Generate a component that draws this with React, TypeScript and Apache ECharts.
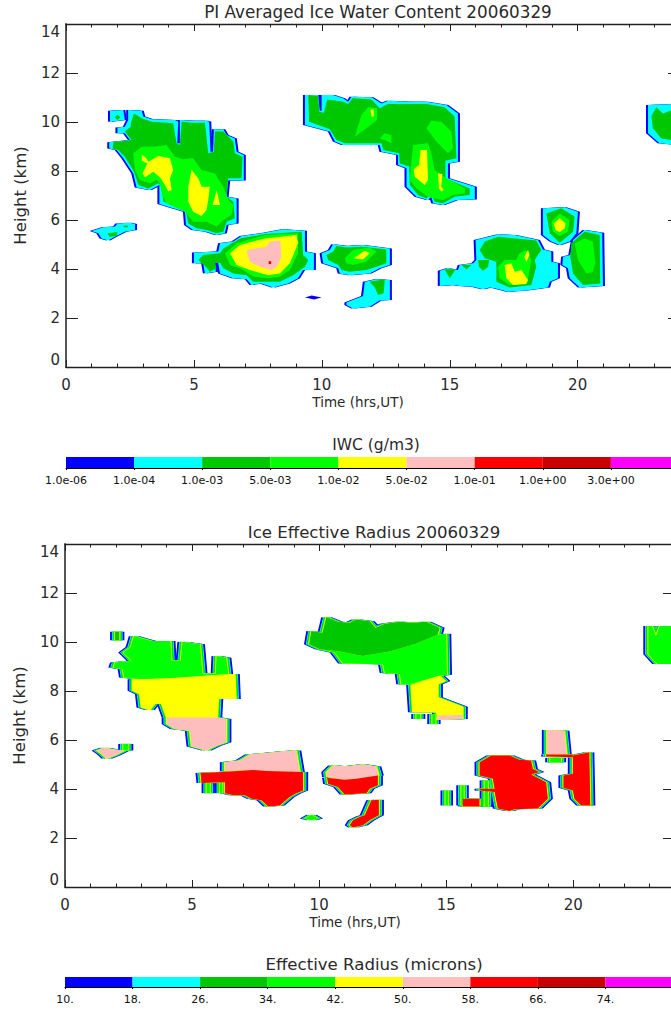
import React, { useEffect, useRef } from "react";
import * as echarts from "echarts";

type Pt = [number, number];
type Poly = Pt[];

const BLUE = "#0000ff", CYAN = "#00ffff", DARKGREEN = "#00c800", GREEN = "#00ff00",
  YELLOW = "#ffff00", PINK = "#ffbebe", RED = "#ff0000", DARKRED = "#c80000", MAGENTA = "#ff00ff";

const barColors = [BLUE, CYAN, DARKGREEN, GREEN, YELLOW, PINK, RED, DARKRED, MAGENTA];
const iwcTicks = ["1.0e-06", "1.0e-04", "1.0e-03", "5.0e-03", "1.0e-02", "5.0e-02", "1.0e-01", "1.0e+00", "3.0e+00", ""];
const radiusTicks = ["10.", "18.", "26.", "34.", "42.", "50.", "58.", "66.", "74.", ""];

// ---------- Ice water content, contour outlines as [hour, km] ----------
const iwcCyan: Poly[] = [
  [[2.43,10.49],[2.96,10.46],[3.02,10.22],[3.35,10.11],[4.26,10.08],[4.39,10.01],[4.35,9.13],[4.45,9.13],[4.45,10.08],[4.97,10.05],[5.49,10.05],[5.6,10.01],[5.65,8.79],[5.75,8.79],[5.78,9.7],[6.15,9.7],[6.28,9.47],[6.6,9.33],[6.67,8.79],[6.95,8.65],[6.95,7.61],[6.34,7.61],[6.28,6.95],[6.67,6.88],[6.67,5.86],[6.28,5.8],[6.21,5.46],[5.89,5.39],[5.49,5.52],[4.97,5.59],[4.69,5.8],[4.65,6.34],[4.06,6.52],[3.65,6.65],[3.65,7.43],[3.28,7.22],[2.76,7.33],[2.63,7.9],[2.24,8.52],[1.98,8.86],[1.69,8.92],[1.69,9.17],[2.5,9.27],[2.3,9.54],[2.01,9.54],[2.01,9.78],[2.3,9.81],[2.43,10.08]],
  [[1.72,10.46],[2.24,10.49],[2.3,10.08],[1.72,10.01]],
  [[1.0,5.55],[1.46,5.7],[1.91,5.73],[2.01,5.86],[2.5,5.89],[2.7,5.84],[2.7,5.59],[2.3,5.52],[1.91,5.32],[1.65,5.16],[1.39,5.25],[1.26,5.46]],
  [[5.0,4.67],[5.95,4.71],[6.02,5.05],[6.54,5.12],[6.86,5.35],[7.77,5.48],[8.49,5.62],[9.34,5.56],[9.34,4.71],[9.69,4.64],[9.69,3.96],[9.27,3.96],[9.07,3.62],[8.68,3.41],[8.1,3.24],[7.64,3.41],[7.25,3.35],[7.06,3.58],[6.54,3.62],[6.02,3.82],[5.95,4.23],[5.82,4.3],[5.86,3.89],[5.43,3.82],[5.36,4.23],[5.0,4.23]],
  [[9.99,4.64],[10.31,4.78],[10.44,5.01],[10.96,4.94],[11.61,4.98],[12.66,4.84],[12.66,4.16],[12.26,4.03],[11.87,3.82],[11.09,3.75],[10.7,3.82],[10.64,4.03],[10.05,4.23]],
  [[11.68,3.48],[12.13,3.58],[12.66,3.55],[12.66,2.73],[12.26,2.71],[11.87,2.46],[11.22,2.39],[10.96,2.53],[10.96,2.63],[11.61,2.9]],
  [[9.34,11.1],[9.86,11.1],[9.92,10.46],[9.99,10.46],[9.99,11.1],[10.44,11.1],[10.83,10.97],[11.03,10.83],[11.16,11.03],[11.94,11.01],[12.33,10.76],[12.59,10.87],[13.44,10.83],[14.09,10.83],[14.87,10.69],[15.32,10.35],[15.32,8.38],[14.93,8.31],[14.93,7.7],[15.98,7.36],[15.98,6.84],[15.26,6.82],[14.74,6.61],[14.35,6.68],[14.28,6.95],[14.15,6.82],[13.7,6.95],[13.31,7.36],[13.31,8.11],[12.98,8.24],[12.98,8.65],[12.33,8.79],[12.26,9.06],[10.83,9.06],[10.51,9.2],[10.31,9.61],[9.34,9.88]],
  [[18.64,6.48],[19.49,6.52],[20.01,6.34],[19.95,5.46],[19.69,5.12],[19.3,4.98],[18.97,5.12],[18.64,5.39]],
  [[19.82,5.18],[20.27,5.59],[20.96,5.48],[20.99,3.31],[20.08,3.25],[19.69,3.62],[19.62,4.03],[19.4,4.16],[19.43,4.5],[19.71,4.57]],
  [[16.01,5.18],[16.89,5.41],[17.54,5.39],[18.45,5.18],[18.64,4.8],[18.97,4.71],[18.97,4.3],[19.23,4.23],[19.23,3.62],[18.91,3.48],[18.84,3.25],[17.99,3.12],[17.28,3.07],[16.76,3.21],[16.56,3.25],[16.3,3.17],[15.91,3.28],[15.39,3.31],[15.19,3.35],[14.61,3.31],[14.61,3.93],[14.93,4.03],[15.32,3.96],[15.39,4.16],[15.91,4.23],[16.04,4.37]],
  [[22.75,10.69],[23.59,10.72],[24,10.73],[24,9.05],[23.2,9.13],[22.75,9.54]],
];
const iwcBlue: Poly[] = [
  [[9.34,2.84],[9.6,2.92],[9.99,2.84],[9.7,2.76]],
];
const iwcDark: Poly[] = [
  [[2.53,9.95],[2.66,10.35],[2.96,10.15],[3.35,10.01],[4.19,9.95],[4.32,9.13],[4.45,9.06],[4.52,10.01],[4.91,9.97],[5.43,9.97],[5.56,8.72],[5.78,8.79],[5.82,9.61],[6.15,9.61],[6.54,9.2],[6.6,8.72],[6.9,8.58],[6.86,7.7],[6.34,7.7],[6.28,6.95],[6.54,6.75],[6.6,6.07],[6.28,5.93],[6.15,5.52],[5.89,5.46],[5.49,5.59],[5.1,5.66],[4.78,5.86],[4.69,6.34],[4.26,6.61],[3.8,6.75],[3.74,7.36],[3.61,7.5],[3.22,7.29],[2.83,7.43],[2.66,7.97],[2.3,8.58],[2.04,8.86],[1.82,8.92],[1.85,9.17],[2.56,9.27],[2.3,9.61],[2.53,9.81]],
  [[1.9,10.19],[2.01,10.3],[2.12,10.19],[2.01,10.08]],
  [[1.63,5.46],[2.01,5.51],[1.98,5.35],[1.69,5.32]],
  [[2.24,5.77],[2.43,5.78],[2.41,5.7],[2.27,5.7]],
  [[5.17,4.37],[5.36,4.57],[6.02,4.64],[6.15,4.84],[6.8,5.25],[7.77,5.43],[9.21,5.52],[9.27,4.57],[9.47,4.37],[9.34,4.09],[8.88,3.75],[8.36,3.48],[7.9,3.48],[7.32,3.48],[7.06,3.75],[6.54,3.82],[6.15,4.03],[6.02,4.26],[5.82,4.23],[5.89,4.03],[5.62,3.89],[5.47,4.09],[5.3,4.23]],
  [[10.18,4.57],[10.44,4.71],[10.57,4.94],[10.96,4.88],[11.61,4.91],[12.52,4.8],[12.52,4.23],[12.13,4.09],[11.74,3.96],[11.09,3.89],[10.77,3.96],[10.64,4.16],[10.25,4.37]],
  [[11.87,3.48],[12.46,3.58],[12.42,3.01],[12.2,2.94],[12.07,3.25]],
  [[9.47,11.1],[9.86,11.06],[9.9,10.42],[10.08,10.38],[10.21,10.92],[10.83,10.83],[11.03,10.73],[11.2,10.97],[11.94,10.92],[12.26,10.56],[12.59,10.73],[13.44,10.73],[14.09,10.73],[14.8,10.6],[15.19,10.22],[15.26,8.52],[14.83,8.42],[14.83,7.7],[15.78,7.29],[15.78,7.02],[15.19,6.95],[14.74,6.68],[14.41,6.75],[14.28,7.09],[14.09,6.88],[13.76,7.02],[13.44,7.43],[13.41,8.18],[13.05,8.31],[13.02,8.72],[12.4,8.86],[12.33,9.13],[10.9,9.13],[10.57,9.27],[10.31,9.7],[9.5,10.01]],
  [[18.78,6.27],[19.36,6.48],[19.88,6.14],[19.82,5.52],[19.3,5.07],[18.91,5.46]],
  [[19.75,5.05],[20.27,5.52],[20.86,5.39],[20.88,3.41],[20.21,3.35],[19.82,3.82],[19.71,4.5]],
  [[16.17,4.78],[16.37,5.12],[16.89,5.32],[18.38,5.16],[18.58,4.78],[18.32,4.37],[18.38,4.09],[18.19,3.35],[17.34,3.25],[16.82,3.48],[16.82,4.3],[16.37,4.44]],
  [[14.8,3.99],[15.23,3.99],[15.0,3.62]],
  [[15.45,4.16],[15.85,4.16],[15.65,3.99]],
  [[16.11,4.37],[16.54,4.37],[16.5,4.09],[16.3,3.93],[16.14,4.09]],
  [[22.88,10.22],[23.07,10.6],[23.33,10.35],[24,10.6],[24,9.2],[23.27,9.33],[22.94,9.74]],
];
const iwcGreen: Poly[] = [
  [[2.63,8.72],[2.96,8.99],[3.48,8.99],[3.93,9.06],[4.26,8.58],[4.58,8.48],[4.97,8.52],[5.3,8.04],[5.82,7.9],[6.15,7.36],[6.34,6.82],[6.54,6.61],[6.47,6.2],[6.15,6.0],[5.89,5.73],[5.49,5.93],[4.97,5.93],[4.65,6.34],[3.93,6.68],[3.74,7.09],[3.67,7.5],[3.54,7.63],[3.28,7.5],[2.89,7.63],[2.7,8.04]],
  [[6.21,4.64],[6.67,5.05],[7.77,5.39],[9.07,5.46],[9.07,4.64],[8.75,3.96],[8.36,3.69],[7.9,3.62],[7.32,3.69],[6.8,4.03],[6.41,4.16]],
  [[10.9,4.44],[11.22,4.78],[11.87,4.88],[12.13,4.71],[11.74,4.3],[11.22,4.16],[10.96,4.23]],
  [[11.29,9.4],[11.55,10.29],[11.81,10.6],[12.16,10.56],[12.16,10.08],[11.74,9.74]],
  [[12.26,9.33],[12.46,9.54],[12.72,9.47],[12.72,9.13],[12.46,9.27]],
  [[14.09,9.74],[14.28,10.05],[14.67,10.01],[15.06,9.61],[15.13,8.92],[14.93,8.72],[14.48,9.2]],
  [[13.57,9.06],[14.15,9.13],[14.28,8.72],[14.41,8.04],[14.87,7.7],[15.59,7.29],[15.59,7.09],[15.13,7.02],[14.74,6.82],[14.41,6.88],[14.15,6.95],[13.7,7.29],[13.44,7.63],[13.5,8.38]],
  [[18.97,5.93],[19.3,6.27],[19.69,6.0],[19.62,5.52],[19.3,5.35],[19.04,5.52]],
  [[19.88,5.05],[20.27,5.25],[20.6,5.12],[20.69,4.23],[20.6,3.89],[20.34,3.82],[20.01,4.37]],
  [[16.89,4.09],[17.15,4.37],[17.6,4.37],[17.73,4.64],[17.99,4.78],[18.19,4.37],[18.06,3.62],[17.99,3.41],[17.34,3.35],[16.95,3.62]],
];
const iwcYellow: Poly[] = [
  [[2.96,8.65],[3.09,8.58],[3.22,8.38],[3.61,8.61],[4.06,8.52],[4.19,8.04],[4.06,7.7],[4.13,7.22],[4.0,7.16],[3.87,7.43],[3.67,7.74],[3.41,7.97],[3.09,7.74],[2.99,7.9],[3.18,8.31],[2.96,8.42]],
  [[4.91,8.04],[5.17,7.7],[5.3,7.36],[5.62,7.36],[5.56,6.82],[5.49,6.41],[5.3,6.16],[4.97,6.34],[4.78,6.75],[4.78,7.36]],
  [[5.89,7.22],[6.02,6.61],[5.73,6.61]],
  [[6.41,4.64],[6.8,4.98],[7.77,5.25],[9.01,5.39],[9.07,5.05],[8.75,4.23],[8.36,3.82],[7.9,3.75],[7.19,3.96],[6.67,4.16]],
  [[11.25,4.44],[11.68,4.75],[11.87,4.64],[11.61,4.39]],
  [[11.9,10.49],[12.03,10.52],[12.03,10.22],[11.94,10.22]],
  [[13.86,8.86],[14.11,8.86],[14.15,7.63],[14.02,7.43],[13.63,7.77],[13.59,8.07],[13.8,8.24]],
  [[14.54,7.9],[14.71,7.88],[14.67,7.36],[14.77,7.22],[14.67,7.16],[14.58,7.29]],
  [[19.06,5.86],[19.3,6.07],[19.53,5.86],[19.49,5.66],[19.3,5.5],[19.14,5.59]],
  [[17.15,4.16],[17.41,4.23],[17.54,3.89],[17.8,3.96],[18.06,3.55],[17.99,3.39],[17.47,3.35],[17.21,3.62]],
  [[17.91,4.5],[18.06,4.78],[18.12,4.57],[17.99,4.3]],
];
const iwcPink: Poly[] = [
  [[7.08,4.78],[7.84,4.91],[7.97,5.12],[8.38,5.16],[8.42,4.5],[8.25,4.09],[8.03,3.96],[7.58,4.09],[7.19,4.3],[7.08,4.64]],
];
const iwcRed: Poly[] = [
  [[7.92,4.32],[8.02,4.32],[8.02,4.2],[7.92,4.2]],
];

// ---------- Effective radius, contour outlines as [hour, km] ----------
const radDark: Poly[] = [
  [[1.97,10.42],[2.14,10.42],[2.14,10.07],[1.97,10.07]],
  [[9.6,9.91],[9.69,10.45],[10.13,10.38],[10.28,11.02],[10.74,10.83],[11.2,10.79],[11.46,10.92],[11.99,10.85],[12.22,10.58],[12.58,10.75],[13.17,10.83],[13.69,10.79],[14.21,10.83],[14.74,10.58],[14.67,10.31],[13.82,9.93],[12.77,9.61],[11.72,9.43],[10.81,9.61],[10.02,9.7]],
];
const radGreen: Poly[] = [
  [[2.71,10.24],[3.41,10.04],[4.15,10.04],[4.19,9.23],[4.55,9.23],[4.62,10.01],[5.31,9.91],[5.41,8.71],[5.93,8.71],[5.96,9.43],[6.35,9.36],[6.42,8.69],[4.0,8.51],[3.01,8.48],[2.32,8.55],[2.27,8.89],[1.9,8.96],[1.97,9.16],[2.62,9.23],[2.29,9.57],[2.58,9.8]],
  [[10.02,9.7],[10.81,9.61],[11.72,9.43],[12.77,9.61],[13.82,9.93],[14.67,10.31],[15.0,10.34],[15.03,8.66],[14.74,8.62],[13.56,8.28],[13.23,8.28],[13.17,8.69],[12.58,8.73],[12.51,9.09],[10.94,9.12],[10.61,9.57]],
  [[2.29,5.84],[2.49,5.84],[2.49,5.57],[2.29,5.57]],
  [[5.57,4.24],[5.7,4.24],[5.7,3.83],[5.57,3.83]],
  [[6.09,4.24],[6.19,4.24],[6.19,3.83],[6.09,3.83]],
  [[9.43,2.8],[9.7,2.95],[9.96,2.8],[9.7,2.72]],
  [[13.82,7.06],[13.98,7.06],[13.98,6.86],[13.82,6.86]],
  [[14.45,7.06],[14.58,7.06],[14.58,6.65],[14.45,6.65]],
  [[19.09,5.27],[19.52,5.27],[19.52,5.09],[19.09,5.09]],
  [[14.97,3.94],[15.07,3.94],[15.07,3.33],[14.97,3.33]],
  [[15.59,4.15],[15.69,4.15],[15.69,3.33],[15.59,3.33]],
  [[16.51,4.35],[16.64,4.35],[16.64,3.27],[16.51,3.27]],
  [[22.95,10.65],[23.1,10.65],[23.25,10.25],[23.4,10.65],[24,10.65],[24,9.1],[23.3,9.1],[22.95,9.5]],
];
const radYellow: Poly[] = [
  [[2.66,8.48],[4.0,8.51],[6.68,8.69],[6.72,7.67],[6.03,7.67],[5.99,6.92],[4.0,6.92],[3.8,7.49],[3.54,7.49],[3.34,7.22],[3.01,7.33],[2.95,7.87],[2.66,8.01]],
  [[13.62,8.25],[14.74,8.62],[14.97,8.41],[14.67,8.28],[14.67,7.74],[15.65,7.36],[15.65,7.03],[14.67,6.99],[14.61,7.13],[13.69,7.13]],
];
const radPink: Poly[] = [
  [[4.0,6.92],[5.99,6.92],[6.35,6.86],[6.35,5.91],[5.96,5.77],[5.57,5.57],[4.98,5.73],[4.91,6.38],[4.32,6.45],[4.0,6.65]],
  [[1.24,5.57],[1.57,5.68],[1.97,5.6],[2.36,5.57],[1.97,5.37],[1.64,5.23],[1.44,5.43]],
  [[6.29,4.73],[6.29,5.09],[6.88,5.16],[7.27,5.41],[7.86,5.46],[8.65,5.54],[9.1,5.57],[9.24,4.69],[7.93,4.73],[7.4,4.78]],
  [[10.31,4.49],[10.28,4.69],[10.55,4.96],[11.07,4.92],[11.72,5.0],[12.25,4.92],[12.35,4.55],[11.46,4.42],[11.0,4.38]],
  [[14.67,6.99],[15.65,7.03],[15.65,6.86],[14.63,6.82]],
  [[18.96,6.41],[19.65,6.38],[19.74,5.43],[18.96,5.43]],
];
const radRed: Poly[] = [
  [[5.33,4.65],[6.16,4.69],[7.4,4.78],[7.93,4.73],[9.37,4.69],[9.37,3.94],[9.1,3.83],[8.84,3.67],[8.45,3.33],[7.99,3.29],[7.73,3.54],[7.34,3.6],[7.07,3.74],[6.62,3.74],[6.29,3.83],[6.29,4.28],[5.37,4.24]],
  [[10.31,4.46],[11.0,4.38],[11.46,4.42],[12.31,4.55],[12.31,4.15],[11.99,4.01],[11.86,3.83],[11.0,3.78],[10.74,4.08],[10.35,4.21]],
  [[12.05,3.54],[12.35,3.56],[12.35,2.93],[11.99,2.72],[11.72,2.52],[11.33,2.43],[11.2,2.52],[11.33,2.72],[11.66,2.89],[11.79,2.93]],
  [[18.93,5.41],[19.98,5.41],[19.98,5.3],[18.93,5.33]],
  [[19.98,5.37],[20.63,5.5],[20.67,3.33],[20.31,3.33],[20.04,3.6],[19.98,3.94],[19.61,4.05],[19.61,4.55],[19.98,4.62]],
  [[16.31,5.09],[16.77,5.37],[17.49,5.37],[17.88,5.19],[18.34,5.16],[18.41,4.82],[18.67,4.69],[18.34,4.59],[18.93,4.28],[19.0,3.6],[18.6,3.2],[17.69,3.17],[17.49,3.1],[17.03,3.2],[16.9,3.88],[16.31,3.94],[16.31,4.01],[16.9,4.01],[16.83,4.42],[16.31,4.55]],
  [[15.65,3.6],[16.31,3.6],[16.31,3.29],[15.65,3.29]],
];

const radAll = [...radGreen, ...radDark, ...radYellow, ...radPink, ...radRed];

const FONT = "DejaVu Sans";
const INK = "#2a2a2a";

function contourLayer(gridIdx: number, color: string, polys: Poly[], shifts: number[]) {
  const data: number[][] = [];
  polys.forEach((p, i) => shifts.forEach((s) => data.push([p[0][0], p[0][1], i, s])));
  return {
    type: "custom",
    xAxisIndex: gridIdx,
    yAxisIndex: gridIdx,
    clip: true,
    silent: true,
    encode: { x: 0, y: 1 },
    data,
    renderItem: (_: any, api: any) => {
      const poly = polys[api.value(2)];
      const dx = api.value(3);
      const points = poly.map((q) => {
        const c = api.coord(q);
        return [c[0] + dx, c[1]];
      });
      return { type: "polygon", shape: { points }, style: { fill: color } };
    },
  };
}

function barSeries(axisIdx: number) {
  return {
    type: "custom",
    xAxisIndex: axisIdx,
    yAxisIndex: axisIdx,
    silent: true,
    encode: { x: 0, y: 1 },
    data: barColors.map((_, i) => [i, 0]),
    renderItem: (_: any, api: any) => {
      const i = api.value(0);
      const a = api.coord([i, 1]);
      const b = api.coord([i + 1, 0]);
      return {
        type: "rect",
        shape: { x: a[0], y: a[1], width: b[0] - a[0], height: b[1] - a[1] },
        style: { fill: barColors[i] },
      };
    },
  };
}

const plotLine = (width: number, color: string) => ({ show: true, onZero: false, lineStyle: { color, width } });

function plotAxes(gridIdx: number) {
  const xBase = {
    type: "value", gridIndex: gridIdx, min: 0, max: 24, interval: 5,
    splitLine: { show: false },
    axisTick: { show: true, inside: true, length: 7, lineStyle: { color: "#222" } },
    minorTick: { show: true, splitNumber: 5, length: 3.5, lineStyle: { color: "#222" } },
    axisLine: plotLine(1.3, "#222"),
  };
  const yBase = {
    type: "value", gridIndex: gridIdx, min: 0, max: 14, interval: 2,
    splitLine: { show: false },
    axisTick: { show: true, inside: true, length: 12, lineStyle: { color: "#222" } },
    axisLine: plotLine(2, "#555"),
  };
  return {
    x: [
      { ...xBase, position: "bottom",
        name: "Time (hrs,UT)", nameLocation: "middle", nameGap: 28,
        nameTextStyle: { fontFamily: FONT, fontSize: 13.5, color: INK, padding: [0, 30, 0, 0] },
        axisLabel: { fontFamily: FONT, fontSize: 15, color: INK, margin: 10, showMaxLabel: false } },
      { ...xBase, position: "top", axisLabel: { show: false } },
    ],
    y: [
      { ...yBase, position: "left",
        name: "Height (km)", nameLocation: "middle", nameGap: 37, nameRotate: 90,
        nameTextStyle: { fontFamily: FONT, fontSize: 16.5, color: INK },
        axisLabel: { fontFamily: FONT, fontSize: 15, color: INK, margin: 6,
          verticalAlignMinLabel: "bottom", verticalAlignMaxLabel: "top" } },
      { ...yBase, position: "right", axisLabel: { show: false } },
    ],
  };
}

function barAxes(gridIdx: number, ticks: string[]) {
  return {
    x: {
      type: "value", gridIndex: gridIdx, min: 0, max: 9, interval: 1, position: "bottom",
      splitLine: { show: false },
      axisLine: plotLine(1, "#000"),
      axisTick: { show: true, length: 2, lineStyle: { color: "#000" } },
      axisLabel: { fontFamily: FONT, fontSize: 11, color: "#111", margin: 7,
        formatter: (v: number) => ticks[Math.round(v)] ?? "" },
    },
    y: { type: "value", gridIndex: gridIdx, min: 0, max: 1, show: false },
  };
}

const titleOf = (text: string, left: number, top: number, fontSize: number) => ({
  text, left, top, textAlign: "center",
  textStyle: { fontFamily: FONT, fontSize, fontWeight: "normal", color: INK },
});

export default function App() {
  const ref = useRef<HTMLDivElement>(null);
  useEffect(() => {
    const chart = echarts.init(ref.current!, null, { renderer: "svg" });
    const p1 = plotAxes(0);
    const p2 = plotAxes(2);
    const b1 = barAxes(4, iwcTicks);
    const b2 = barAxes(5, radiusTicks);

    // axes: 0 bottom-of-plot-1, 1 top-of-plot-1, 2 bottom-of-plot-2, 3 top-of-plot-2, 4, 5 colour bars
    const p1x = p1.x; const p1y = p1.y;
    const p2x = p2.x.map((a) => ({ ...a, gridIndex: 1 }));
    const p2y = p2.y.map((a) => ({ ...a, gridIndex: 1 }));
    const b1x = { ...b1.x, gridIndex: 2 }; const b1y = { ...b1.y, gridIndex: 2 };
    const b2x = { ...b2.x, gridIndex: 3 }; const b2y = { ...b2.y, gridIndex: 3 };

    chart.setOption({
      animation: false,
      backgroundColor: "#fff",
      title: [
        titleOf("PI Averaged Ice Water Content 20060329", 373, -2, 16.8),
        titleOf("IWC (g/m3)", 371, 432, 15.5),
        titleOf("Ice Effective Radius 20060329", 369, 519, 16.6),
        titleOf("Effective Radius (microns)", 369, 951, 16.6),
      ],
      grid: [
        { left: 66, top: 24, width: 614, height: 343 },
        { left: 65, top: 544, width: 610, height: 343 },
        { left: 66, top: 457, width: 613, height: 11 },
        { left: 65, top: 977, width: 608, height: 10 },
      ],
      xAxis: [...p1x, ...p2x, b1x, b2x],
      yAxis: [...p1y, ...p2y, b1y, b2y],
      series: [
        contourLayer(0, BLUE, iwcCyan, [-2, 2]),
        contourLayer(0, BLUE, iwcBlue, [0]),
        contourLayer(0, CYAN, iwcCyan, [0]),
        contourLayer(0, DARKGREEN, iwcDark, [0]),
        contourLayer(0, GREEN, iwcGreen, [0]),
        contourLayer(0, YELLOW, iwcYellow, [0]),
        contourLayer(0, PINK, iwcPink, [0]),
        contourLayer(0, RED, iwcRed, [0]),

        contourLayer(2, BLUE, radAll, [-5, 5]),
        contourLayer(2, CYAN, radAll, [-3.2, 3.2]),
        contourLayer(2, DARKGREEN, radAll, [-2.4, 2.4]),
        contourLayer(2, GREEN, radAll, [-1.6, 1.6]),
        contourLayer(2, YELLOW, radAll, [-0.8, 0.8]),
        contourLayer(2, GREEN, radGreen, [0]),
        contourLayer(2, DARKGREEN, radDark, [0]),
        contourLayer(2, YELLOW, radYellow, [0]),
        contourLayer(2, PINK, radPink, [0]),
        contourLayer(2, RED, radRed, [0]),

        barSeries(4),
        barSeries(5),
      ],
    });
    return () => chart.dispose();
  }, []);
  return (
    <div style={{ position: "fixed", left: 0, top: 0, width: 671, height: 1010, overflow: "hidden", background: "#fff" }}>
      <div ref={ref} style={{ width: 720, height: 1010 }} />
    </div>
  );
}
